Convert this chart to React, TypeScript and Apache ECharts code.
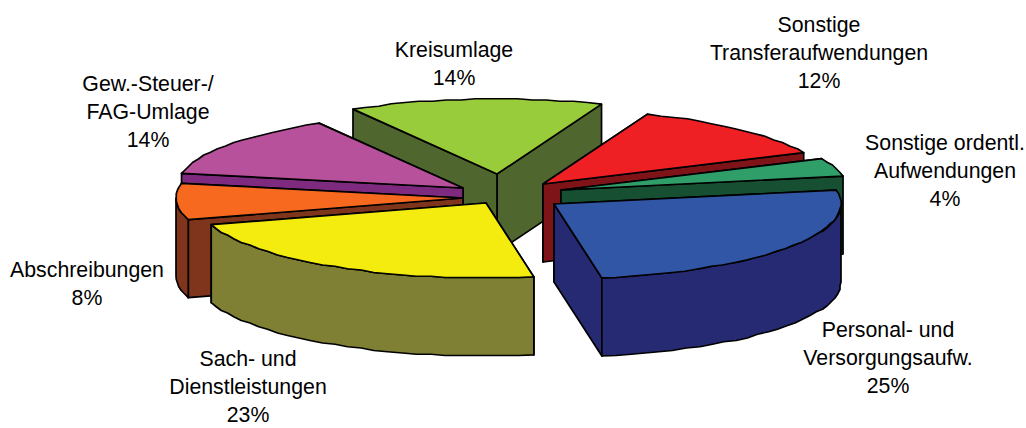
import React, { useEffect, useRef } from "react";
import * as echarts from "echarts";

const names = [
  "Personal- und\nVersorgungsaufw.",
  "Sonstige ordentl.\nAufwendungen",
  "Sonstige\nTransferaufwendungen",
  "Kreisumlage",
  "Gew.-Steuer-/\nFAG-Umlage",
  "Abschreibungen",
  "Sach- und\nDienstleistungen",
];
// Shares; the labels show them rounded
const values = [25.3, 3.9, 12.2, 14.3, 13.5, 7.8, 23.0];
const topColors = ["#3056a5", "#2f9e68", "#ef2024", "#99cc3b", "#b8519b", "#f7691f", "#f4ec0f"];
const sideColors = ["#252a73", "#174f33", "#7f1418", "#4f672e", "#7e2a7e", "#7f351b", "#808034"];

// Layout of the projected pie
const CX = 500, CY = 190, RX = 287, RY = 75, DEPTH = 78, FIRST_ANGLE = 80.4, SNAP = 1.25, STEP = 3;
const explode = [[54, 14], [61, 0], [43, -6], [-3, -16], [-37, -2], [-37, 8], [-14, 13]];
const paintOrder = [3, 4, 2, 1, 5, 0, 6];
const labelAt = [[888, 358], [945, 171], [819, 53], [454, 64], [148, 112], [87, 284], [248, 387]];
const LINE_GAP = 28;

const snap = (v: number) => Math.round(v / SNAP) * SNAP;

function renderSlice(params: any, api: any) {
  const value = api.value(0);
  const before = api.value(1);
  const i = api.value(2);
  const a0 = FIRST_ANGLE - before * 3.6;
  const a1 = a0 - value * 3.6;
  const ax = CX + explode[i][0], ay = CY + explode[i][1];
  const pt = (deg: number, dy = 0) => {
    const r = (deg * Math.PI) / 180;
    return [ax + RX * Math.cos(r), ay + RY * Math.sin(r) + dy];
  };
  const jag = (deg: number, dy = 0) => {
    const p = pt(deg);
    return [snap(p[0]), snap(p[1]) + dy];
  };
  const arc = (from: number, to: number, dy = 0) => {
    const out: number[][] = [pt(from, dy)];
    const n = Math.max(2, Math.ceil(Math.abs(to - from) / STEP));
    for (let k = 1; k < n; k++) out.push(jag(from + ((to - from) * k) / n, dy));
    out.push(pt(to, dy));
    return out;
  };
  const lineStyle = { stroke: "#000", lineWidth: 1.7, lineJoin: "round" };
  const side = { ...lineStyle, fill: sideColors[i] };
  const children: any[] = [];
  const sinOf = (d: number) => Math.sin((d * Math.PI) / 180);
  const faces = [a0, a1].sort((p, q) => sinOf(p) - sinOf(q));
  for (const d of faces) {
    const p = pt(d);
    children.push({
      type: "polygon",
      shape: { points: [[ax, ay], p, [p[0], p[1] + DEPTH], [ax, ay + DEPTH]] },
      style: side,
    });
  }
  // Front part of the outer wall: the angles whose sine is positive
  const ranges = [[0, 180], [-360, -180]];
  for (const [lo, hi] of ranges) {
    const from = Math.min(a0, hi);
    const to = Math.max(a1, lo);
    if (from > to) {
      const upper = arc(from, to);
      const lower = arc(to, from, DEPTH);
      children.push({ type: "polygon", shape: { points: [...upper, ...lower] }, style: side });
    }
  }
  children.push({
    type: "polygon",
    shape: { points: [[ax, ay], ...arc(a0, a1)] },
    style: { ...lineStyle, fill: topColors[i] },
  });
  return { type: "group", children };
}

export default function App() {
  const ref = useRef<HTMLDivElement>(null);
  useEffect(() => {
    if (!ref.current) return;
    const chart = echarts.init(ref.current, undefined, { renderer: "svg" });
    const cumulative = values.map((_, i) => values.slice(0, i).reduce((s, v) => s + v, 0));
    const labelLines = names.flatMap((name, i) => {
      const lines = [...name.split("\n"), `${Math.round(values[i])}%`];
      return lines.map((text, k) => ({
        type: "text",
        x: labelAt[i][0],
        y: labelAt[i][1] + (k - (lines.length - 1) / 2) * LINE_GAP,
        z: 100,
        silent: true,
        style: {
          text,
          fill: "#000",
          font: '21.3px "Liberation Sans", Arial, sans-serif',
          align: "center",
          verticalAlign: "middle",
        },
      }));
    });
    chart.setOption({
      animation: false,
      backgroundColor: "#fff",
      series: [
        {
          type: "custom",
          coordinateSystem: "none",
          silent: true,
          renderItem: renderSlice,
          data: paintOrder.map((i) => [values[i], cumulative[i], i]),
        },
      ],
      graphic: labelLines,
    });
    return () => chart.dispose();
  }, []);
  return <div ref={ref} style={{ position: "absolute", left: 0, top: 0, width: 1026, height: 428 }} />;
}
